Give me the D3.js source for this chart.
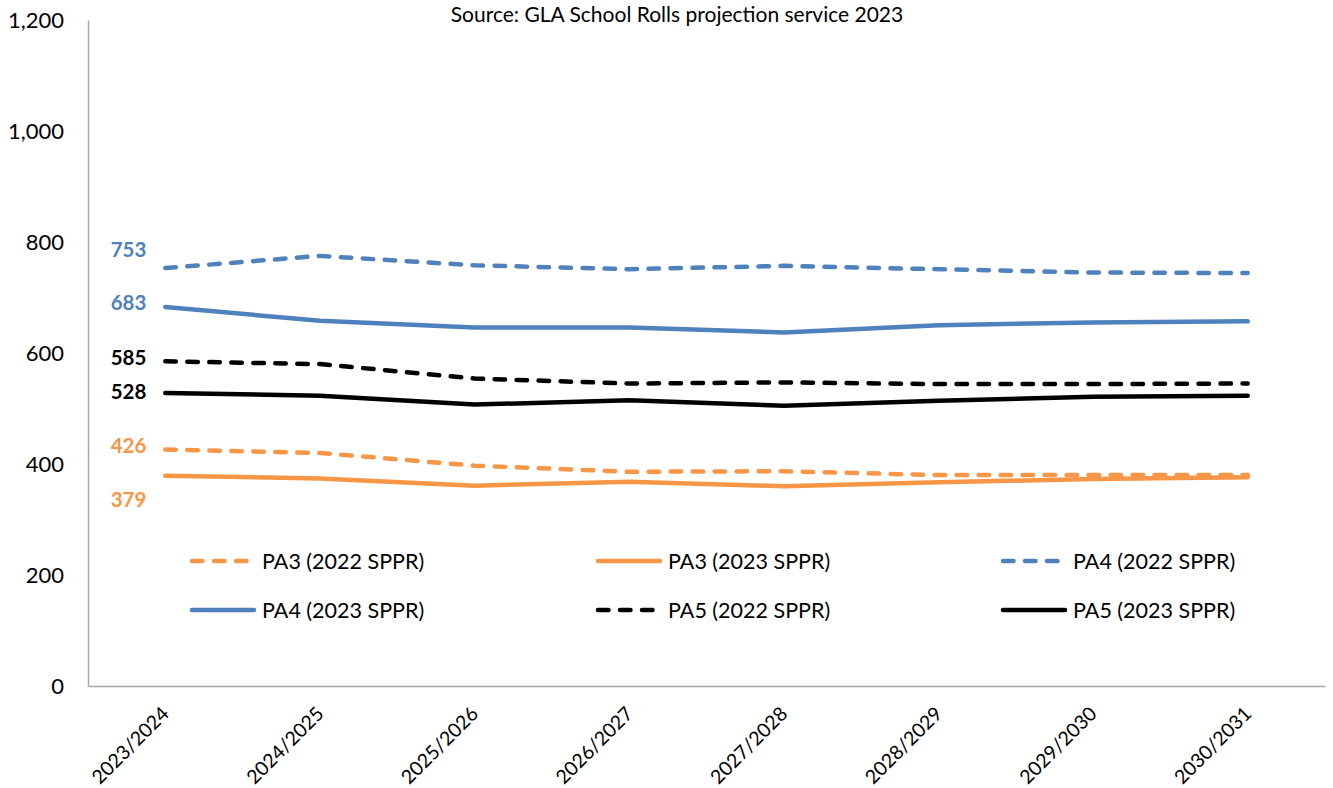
<!DOCTYPE html>
<html>
<head>
<meta charset="utf-8">
<script src="https://cdn.jsdelivr.net/npm/d3@7"></script>
<style>
  html, body { margin: 0; padding: 0; background: #fff; }
  svg { display: block; font-family: Lato, "Open Sans", sans-serif; }
</style>
</head>
<body>
<svg id="chart" width="1333" height="788"></svg>
<script>
// Academic years on the x axis
const years = ["2023/2024", "2024/2025", "2025/2026", "2026/2027", "2027/2028", "2028/2029", "2029/2030", "2030/2031"];

// Projected pupils per planning area and projection round
const pa3_2022 = [426, 420, 397, 386, 387, 380, 380, 380];
const pa3_2023 = [379, 374, 361, 368, 360, 367, 373, 376];
const pa4_2022 = [753, 775, 758, 751, 757, 751, 745, 744];
const pa4_2023 = [683, 658, 646, 646, 637, 650, 655, 657];
const pa5_2022 = [585, 580, 554, 545, 547, 544, 544, 545];
const pa5_2023 = [528, 523, 507, 515, 505, 514, 521, 523];

const yTicks = [0, 200, 400, 600, 800, 1000, 1200];

const seriesNames = ["PA3 (2022 SPPR)", "PA3 (2023 SPPR)", "PA4 (2022 SPPR)", "PA4 (2023 SPPR)", "PA5 (2022 SPPR)", "PA5 (2023 SPPR)"];
const seriesValues = [pa3_2022, pa3_2023, pa4_2022, pa4_2023, pa5_2022, pa5_2023];

const orange = "#f79646", blue = "#4f81bd", black = "#000000";
const seriesColors = [orange, orange, blue, blue, black, black];
const seriesDashed = [true, false, true, false, true, false];
// vertical nudge of the first-value label relative to its point
const labelDy = [-4, 24, -18, -4, -4, -1];

const series = seriesNames.map((name, i) => ({
  name, values: seriesValues[i], color: seriesColors[i], dashed: seriesDashed[i], dy: labelDy[i]
}));

const svg = d3.select("#chart");
const margin = { left: 88, right: 8, top: 20, bottom: 102 };
const W = 1333, H = 788;
const font = "Lato, 'Open Sans', sans-serif";

const x = d3.scaleBand().domain(years).range([margin.left, W - margin.right]);
const y = d3.scaleLinear().domain([0, 1200]).range([H - margin.bottom, margin.top]);
const cx = d => x(d) + x.bandwidth() / 2;

// Title
svg.append("text")
  .attr("x", 677).attr("y", 22)
  .attr("text-anchor", "middle")
  .attr("font-size", 21).attr("fill", "#000")
  .text("Source: GLA School Rolls projection service 2023");

// Y axis
const yAxis = svg.append("g")
  .attr("transform", `translate(${margin.left},0)`)
  .call(d3.axisLeft(y).tickValues(yTicks).tickSize(0).tickPadding(24).tickFormat(d3.format(",")));
yAxis.select(".domain").attr("stroke", "#a6a6a6").attr("stroke-width", 1.5);
yAxis.selectAll("text").attr("font-size", 22).attr("fill", "#000").attr("font-family", font);

// X axis
const xAxis = svg.append("g")
  .attr("transform", `translate(0,${H - margin.bottom})`)
  .call(d3.axisBottom(x).tickSize(0).tickPadding(0));
xAxis.select(".domain").attr("stroke", "#a6a6a6").attr("stroke-width", 1.5);
xAxis.selectAll("text")
  .attr("font-size", 19.5).attr("fill", "#000").attr("font-family", font)
  .attr("text-anchor", "end")
  .attr("dy", 0)
  .attr("transform", "translate(5,29) rotate(-45)");

// Lines
const line = d3.line().x((d, i) => cx(years[i])).y(d => y(d));
svg.append("g").selectAll("path")
  .data(series)
  .join("path")
  .attr("d", d => line(d.values))
  .attr("fill", "none")
  .attr("stroke", d => d.color)
  .attr("stroke-width", 4.5)
  .attr("stroke-linecap", "round")
  .attr("stroke-linejoin", "round")
  .attr("stroke-dasharray", d => d.dashed ? "10.5,11.5" : null);

// First-value labels
svg.append("g").selectAll("text")
  .data(series)
  .join("text")
  .attr("x", cx(years[0]) - 19)
  .attr("y", d => y(d.values[0]) + d.dy)
  .attr("dy", "0.35em")
  .attr("text-anchor", "end")
  .attr("font-size", 20.5).attr("font-weight", "bold")
  .attr("fill", d => d.color)
  .text(d => d3.format(",")(d.values[0]));

// Legend: 3 columns by 2 rows
const legendCols = [190, 596, 1001];
const legendRows = [561, 610];
const lg = svg.append("g").selectAll("g")
  .data(series)
  .join("g")
  .attr("transform", (d, i) => `translate(${legendCols[i % 3]},${legendRows[Math.floor(i / 3)]})`);
lg.append("line")
  .attr("x1", 2).attr("x2", 64).attr("y1", 0).attr("y2", 0)
  .attr("stroke", d => d.color)
  .attr("stroke-width", 4.5)
  .attr("stroke-linecap", "round")
  .attr("stroke-dasharray", d => d.dashed ? "10.5,11.5" : null);
lg.append("text")
  .attr("x", 72).attr("y", 0).attr("dy", "0.35em")
  .attr("font-size", 21.5).attr("fill", "#000")
  .text(d => d.name);
</script>
</body>
</html>
